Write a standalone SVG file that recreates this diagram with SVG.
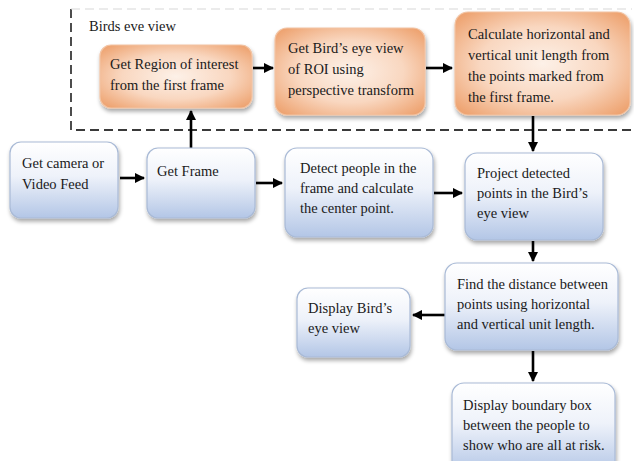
<svg xmlns="http://www.w3.org/2000/svg" width="634" height="461" viewBox="0 0 634 461">
  <defs>
    <radialGradient id="gOrange" cx="50%" cy="50%" r="65%">
      <stop offset="0" stop-color="#fdf1e8"/>
      <stop offset="0.55" stop-color="#f9d7c0"/>
      <stop offset="1" stop-color="#eea472"/>
    </radialGradient>
    <linearGradient id="gBlue" x1="0" y1="0" x2="0" y2="1">
      <stop offset="0" stop-color="#ffffff"/>
      <stop offset="0.45" stop-color="#eef2fa"/>
      <stop offset="1" stop-color="#b3c6e6"/>
    </linearGradient>
    <filter id="shadow" x="-10%" y="-10%" width="125%" height="130%">
      <feGaussianBlur in="SourceAlpha" stdDeviation="2"/>
      <feOffset dx="1" dy="3" result="b"/>
      <feComponentTransfer><feFuncA type="linear" slope="0.35"/></feComponentTransfer>
      <feMerge><feMergeNode/><feMergeNode in="SourceGraphic"/></feMerge>
    </filter>
    <marker id="arr" viewBox="0 0 10 10" refX="9" refY="5" markerWidth="4" markerHeight="4" orient="auto" markerUnits="strokeWidth">
      <path d="M0,0 L10,5 L0,10 z" fill="#000"/>
    </marker>
    <style>
      .orange { fill: url(#gOrange); stroke: #f2c4a4; stroke-width: 1.2; filter: url(#shadow); }
      .blue { fill: url(#gBlue); stroke: #a9bad6; stroke-width: 1.2; filter: url(#shadow); }
      .t { font-family: "Liberation Serif", "Times New Roman", serif; font-size: 14.5px; fill: #1a1a1a; }
      .conn { stroke: #000; stroke-width: 2.6; fill: none; marker-end: url(#arr); }
      .dash { stroke: #3a3a3a; stroke-width: 1.8; stroke-dasharray: 9 5; fill: none; }
    </style>
  </defs>
  <rect width="634" height="461" fill="#ffffff"/>

  <g id="birds-eye-frame">
    <path class="dash" d="M71,9 L71,130 L632,130"/>
    <path d="M71,9 L632,9" stroke="#d8d8d8" stroke-width="1.2" stroke-dasharray="9 5" fill="none"/>
    <text class="t" x="89" y="31">Birds eve view</text>
  </g>

  <g id="connectors">
    <path class="conn" d="M253,68 L273,68"/>
    <path class="conn" d="M426,68 L452,68"/>
    <path class="conn" d="M533,116 L533,151"/>
    <path class="conn" d="M120,178 L144,178"/>
    <path class="conn" d="M191,148 L191,111"/>
    <path class="conn" d="M256,183 L282,183"/>
    <path class="conn" d="M434,193 L462,193"/>
    <path class="conn" d="M533,241 L533,261"/>
    <path class="conn" d="M445,315 L413,315"/>
    <path class="conn" d="M533,351 L533,381"/>
  </g>

  <g id="roi">
    <rect class="orange" x="100" y="45" width="152" height="63" rx="11"/>
    <text class="t" x="110" y="69">Get Region of interest</text>
    <text class="t" x="110" y="90">from the first frame</text>
  </g>

  <g id="birdseye">
    <rect class="orange" x="275" y="28" width="150" height="87" rx="12"/>
    <text class="t" x="288" y="53">Get Bird’s eye view</text>
    <text class="t" x="288" y="74">of ROI using</text>
    <text class="t" x="288" y="95">perspective transform</text>
  </g>

  <g id="unitlength">
    <rect class="orange" x="455" y="12" width="175" height="103" rx="13"/>
    <text class="t" x="468" y="39">Calculate horizontal  and</text>
    <text class="t" x="468" y="60">vertical unit length  from</text>
    <text class="t" x="468" y="81">the points marked from</text>
    <text class="t" x="468" y="102">the first frame.</text>
  </g>

  <g id="camera">
    <rect class="blue" x="10" y="142" width="108" height="76" rx="11"/>
    <text class="t" x="22" y="168">Get camera or</text>
    <text class="t" x="22" y="189">Video Feed</text>
  </g>

  <g id="getframe">
    <rect class="blue" x="147" y="148" width="108" height="70" rx="11"/>
    <text class="t" x="157" y="176">Get Frame</text>
  </g>

  <g id="detect">
    <rect class="blue" x="285" y="148" width="148" height="89" rx="12"/>
    <text class="t" x="300" y="173">Detect people in  the</text>
    <text class="t" x="300" y="193">frame and calculate</text>
    <text class="t" x="300" y="213">the center point.</text>
  </g>

  <g id="project">
    <rect class="blue" x="465" y="153" width="138" height="87" rx="12"/>
    <text class="t" x="477" y="178">Project detected</text>
    <text class="t" x="477" y="198">points in  the Bird’s</text>
    <text class="t" x="477" y="218">eye view</text>
  </g>

  <g id="distance">
    <rect class="blue" x="445" y="263" width="173" height="87" rx="12"/>
    <text class="t" x="457" y="289">Find the distance between</text>
    <text class="t" x="457" y="309">points using horizontal</text>
    <text class="t" x="457" y="329">and vertical unit length.</text>
  </g>

  <g id="display-birdseye">
    <rect class="blue" x="297" y="288" width="113" height="69" rx="11"/>
    <text class="t" x="308" y="313">Display Bird’s</text>
    <text class="t" x="308" y="333">eye view</text>
  </g>

  <g id="boundary">
    <rect class="blue" x="452" y="383" width="163" height="90" rx="12"/>
    <text class="t" x="463" y="410">Display boundary box</text>
    <text class="t" x="463" y="430">between the people to</text>
    <text class="t" x="463" y="450">show who are all  at risk.</text>
  </g>
</svg>
